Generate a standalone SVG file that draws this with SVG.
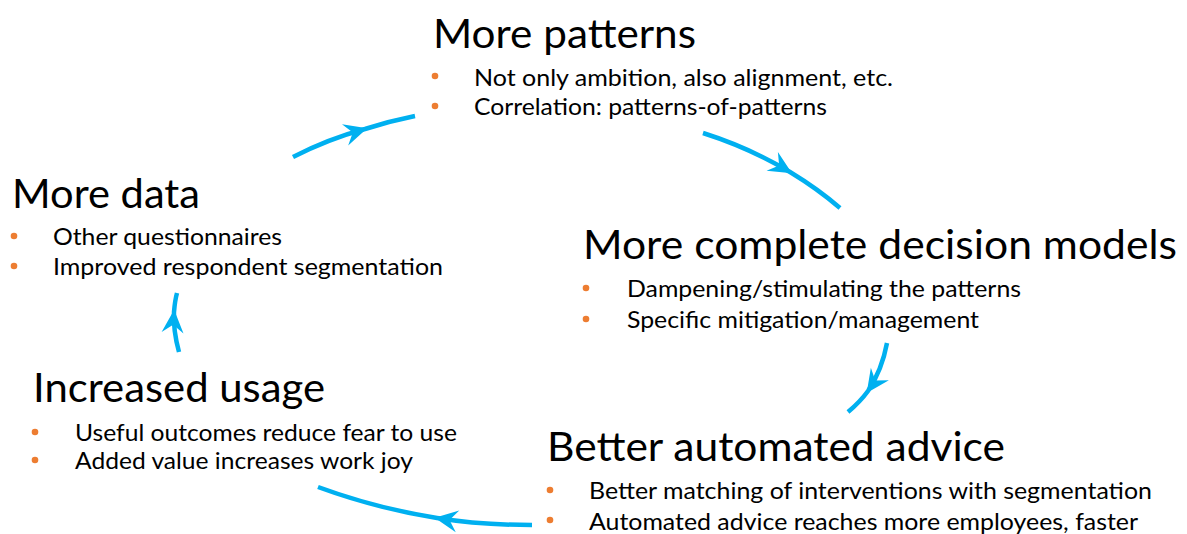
<svg xmlns="http://www.w3.org/2000/svg" width="1187" height="534" viewBox="0 0 1187 534">
  <style>
    .title { font-family: Lato, "Open Sans", "Liberation Sans", sans-serif; font-size: 40px; fill: #000; }
    .item { font-family: Lato, "Open Sans", "Liberation Sans", sans-serif; font-size: 23px; fill: #000; }
    .dot { fill: #ED7D31; }
    .flow { fill: none; stroke: #00B0F0; stroke-width: 4.5; stroke-linecap: butt; marker-mid: url(#ah); }
  </style>
  <defs>
    <marker id="ah" markerUnits="userSpaceOnUse" markerWidth="30" markerHeight="30" viewBox="-22 -13 26 26" refX="0" refY="0" orient="auto" overflow="visible">
      <path d="M2,0 L-18,-9.5 L-11,0 L-18,9.5 Z" fill="#00B0F0"/>
    </marker>
  </defs>
  <rect width="1187" height="534" fill="#fff"/>

  <!-- cycle connectors -->
  <g id="connectors">
    <path class="flow" d="M293,157 Q328,139 365,129 Q390,121 415,116"/>
    <path class="flow" d="M703,133 Q750,148 790,172 Q818,189 840,208"/>
    <path class="flow" d="M887,343 Q882,370 868,391 Q860,402 848,412"/>
    <path class="flow" d="M532,525 Q480,525 437,518 Q375,508 318,487"/>
    <path class="flow" d="M179,352 Q173,330 174,312 Q175,300 177,293"/>
  </g>

  <g id="more-patterns">
    <text class="title" x="433" y="48" textLength="263" lengthAdjust="spacingAndGlyphs">More patterns</text>
    <circle class="dot" cx="435" cy="76" r="3.3"/>
    <text class="item" x="474" y="86" textLength="419" lengthAdjust="spacingAndGlyphs">Not only ambition, also alignment, etc.</text>
    <circle class="dot" cx="435" cy="106" r="3.3"/>
    <text class="item" x="474" y="115" textLength="353" lengthAdjust="spacingAndGlyphs">Correlation: patterns-of-patterns</text>
  </g>

  <g id="more-data">
    <text class="title" x="12" y="208" textLength="188" lengthAdjust="spacingAndGlyphs">More data</text>
    <circle class="dot" cx="14" cy="236" r="3.3"/>
    <text class="item" x="53" y="245" textLength="229" lengthAdjust="spacingAndGlyphs">Other questionnaires</text>
    <circle class="dot" cx="14" cy="266" r="3.3"/>
    <text class="item" x="53" y="275" textLength="390" lengthAdjust="spacingAndGlyphs">Improved respondent segmentation</text>
  </g>

  <g id="decision-models">
    <text class="title" x="583" y="259" textLength="594" lengthAdjust="spacingAndGlyphs">More complete decision models</text>
    <circle class="dot" cx="586" cy="288" r="3.3"/>
    <text class="item" x="627" y="297" textLength="394" lengthAdjust="spacingAndGlyphs">Dampening/stimulating the patterns</text>
    <circle class="dot" cx="586" cy="319" r="3.3"/>
    <text class="item" x="627" y="328" textLength="352" lengthAdjust="spacingAndGlyphs">Specific mitigation/management</text>
  </g>

  <g id="automated-advice">
    <text class="title" x="547" y="461" textLength="458" lengthAdjust="spacingAndGlyphs">Better automated advice</text>
    <circle class="dot" cx="550" cy="490" r="3.3"/>
    <text class="item" x="589" y="499" textLength="563" lengthAdjust="spacingAndGlyphs">Better matching of interventions with segmentation</text>
    <circle class="dot" cx="550" cy="520" r="3.3"/>
    <text class="item" x="589" y="530" textLength="549" lengthAdjust="spacingAndGlyphs">Automated advice reaches more employees, faster</text>
  </g>

  <g id="increased-usage">
    <text class="title" x="33" y="402" textLength="292" lengthAdjust="spacingAndGlyphs">Increased usage</text>
    <circle class="dot" cx="35" cy="432" r="3.3"/>
    <text class="item" x="75" y="441" textLength="382" lengthAdjust="spacingAndGlyphs">Useful outcomes reduce fear to use</text>
    <circle class="dot" cx="35" cy="460" r="3.3"/>
    <text class="item" x="75" y="469" textLength="338" lengthAdjust="spacingAndGlyphs">Added value increases work joy</text>
  </g>
</svg>
